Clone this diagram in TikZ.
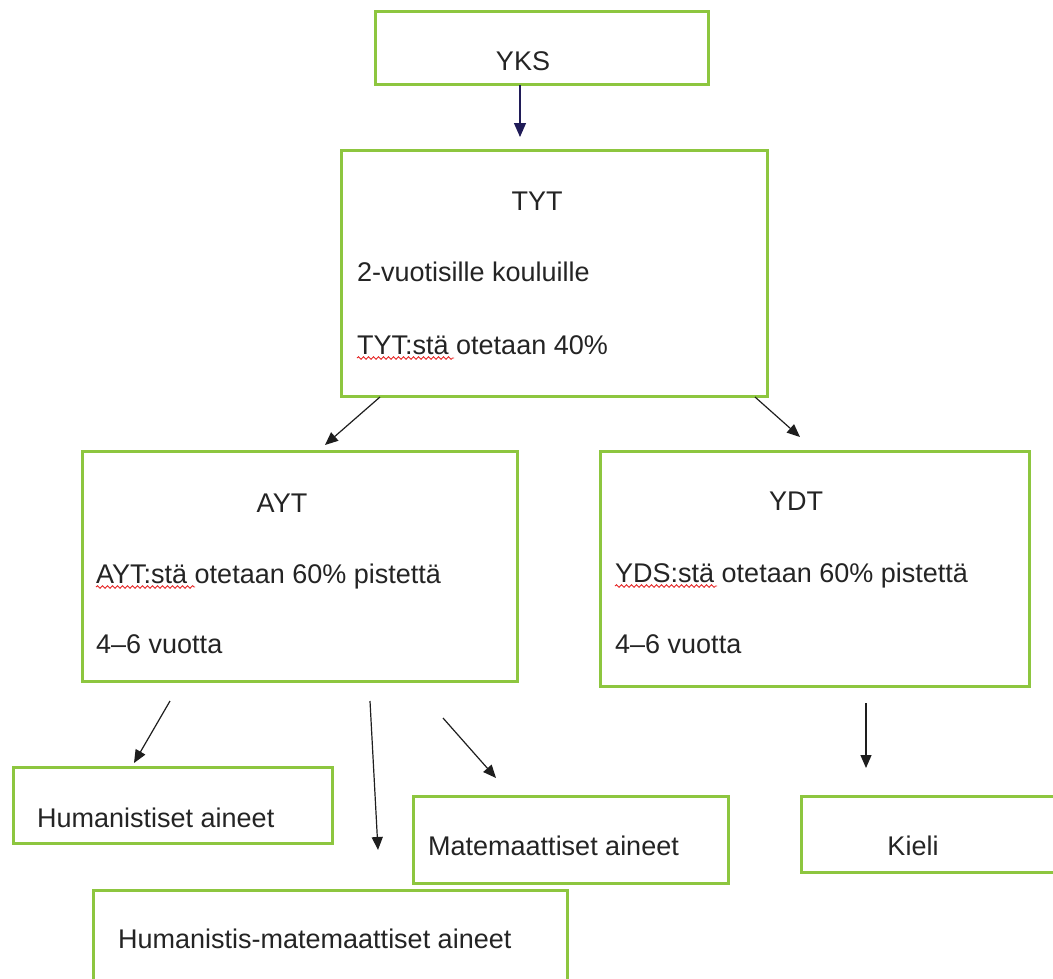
\documentclass[tikz,border=0pt]{standalone}
\usepackage{fontspec}
\setmainfont{Liberation Sans}
\usetikzlibrary{arrows.meta,calc,decorations.pathmorphing}
\definecolor{boxgreen}{RGB}{141,198,63}
\definecolor{textgray}{RGB}{36,36,36}
\definecolor{navy}{RGB}{32,28,88}
\definecolor{arrowgray}{RGB}{30,30,30}
\definecolor{squigred}{RGB}{230,40,40}
\tikzset{
  box/.style={draw=boxgreen, line width=3pt, rectangle, inner sep=0pt, anchor=north west},
  txt/.style={font=\fontsize{27}{32}\selectfont, text=textgray, inner sep=0pt, anchor=base west},
  ctxt/.style={txt, anchor=base},
  arr/.style={draw=arrowgray, line width=1.2pt, -{Triangle[length=13pt,width=11pt]}},
  navyarr/.style={draw=navy, line width=1.3pt, -{Triangle[length=14pt,width=12pt]}},
  squig/.style={draw=squigred, line width=0.9pt, decorate, decoration={snake, segment length=5pt, amplitude=1.3pt}}
}
\begin{document}
\begin{tikzpicture}[x=1pt,y=-1pt]
\useasboundingbox[fill=white] (0,0) rectangle (1053,978);
% boxes
\node[box, minimum width=333pt, minimum height=73pt] (yks) at (373.5,9.5) {};
\node[box, minimum width=426pt, minimum height=246pt] (tyt) at (339.5,148.5) {};
\node[box, minimum width=435pt, minimum height=230pt] (ayt) at (80.5,449.5) {};
\node[box, minimum width=429pt, minimum height=235pt] (ydt) at (598.5,449.5) {};
\node[box, minimum width=319pt, minimum height=76pt] (hum) at (11.5,765.5) {};
\node[box, minimum width=315pt, minimum height=87pt] (mat) at (411.5,794.5) {};
\node[box, minimum width=474pt, minimum height=120pt] (hm) at (91.5,888.5) {};
\node[box, minimum width=280pt, minimum height=76pt] (kieli) at (799.5,794.5) {};
% texts
\node[ctxt] (yksT) at (523,70) {YKS};
\node[ctxt] (tytT) at (537,210) {TYT};
\node[txt] (tyt1) at (357,281) {2-vuotisille kouluille};
\node[txt] (tyt2) at (357,354) {TYT:stä otetaan 40\%};
\node[ctxt] (aytT) at (282,512) {AYT};
\node[txt] (ayt1) at (96,583) {AYT:stä otetaan 60\% pistettä};
\node[txt] (ayt2) at (96,653) {4–6 vuotta};
\node[ctxt] (ydtT) at (796,510) {YDT};
\node[txt] (ydt1) at (615,582) {YDS:stä otetaan 60\% pistettä};
\node[txt] (ydt2) at (615,653) {4–6 vuotta};
\node[txt] (humT) at (37,827) {Humanistiset aineet};
\node[txt] (matT) at (428,855) {Matemaattiset aineet};
\node[txt] (hmT) at (118,948) {Humanistis-matemaattiset aineet};
\node[ctxt] (kieliT) at (913,855) {Kieli};
% spell-check squiggles
\draw[squig] ([yshift=-4pt]tyt2.base west) -- ++(97,0);
\draw[squig] ([yshift=-4pt]ayt1.base west) -- ++(99,0);
\draw[squig] ([yshift=-4pt]ydt1.base west) -- ++(102,0);
% connectors
\draw[navyarr] ($(yks.south west)+(146.5,-0.5)$) -- ($(tyt.north west)+(180.5,-11.5)$);
\draw[arr] ($(tyt.south west)+(40.5,-0.5)$) -- ($(ayt.north west)+(244.5,-4.5)$);
\draw[arr] ($(tyt.south east)+(-13.5,-0.5)$) -- ($(ydt.north west)+(201.5,-12.5)$);
\draw[arr] ($(ayt.south west)+(89.5,18.5)$) -- ($(hum.north west)+(122.5,-2.5)$);
\draw[arr] ($(ayt.south west)+(289.5,18.5)$) -- ($(hm.north west)+(286.5,-38.5)$);
\draw[arr] ($(ayt.south west)+(362.5,35.5)$) -- ($(mat.north west)+(84.5,-16.5)$);
\draw[arr] ($(ydt.south west)+(267.5,15.5)$) -- ($(kieli.north west)+(66.5,-26.5)$);
\end{tikzpicture}
\end{document}
